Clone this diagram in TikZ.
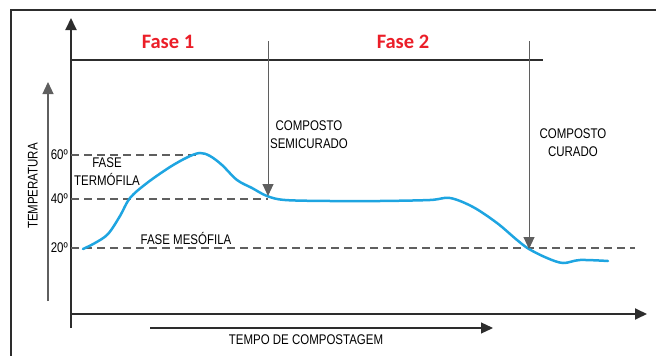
\documentclass[tikz,border=0pt]{standalone}
\usepackage{fontspec}
\setmainfont{Liberation Sans}[FakeStretch=0.82]
\newfontfamily\fasefont{Carlito}
\usepackage{tikz}
\usetikzlibrary{arrows.meta}

\definecolor{curveblue}{RGB}{30,165,225}
\definecolor{fasered}{RGB}{235,30,40}
\definecolor{axisgray}{RGB}{45,45,45}
\definecolor{linegray}{RGB}{95,95,95}

\tikzset{
	lbl/.style={font=\fontsize{14}{18}\selectfont, inner sep=0pt, align=center, text=black},
	fasetxt/.style={font=\fasefont\bfseries\fontsize{20.5}{24}\selectfont, text=fasered, inner sep=0pt},
	axisline/.style={draw=axisgray, line width=1.8pt, -{Triangle[length=12pt,width=11pt]}},
	thinarrow/.style={draw=linegray, line width=1.2pt, -{Triangle[length=12pt,width=11pt]}},
	levelline/.style={draw=linegray, line width=1.1pt, dash pattern=on 8pt off 5pt},
}

\begin{document}
\begin{tikzpicture}[x=1pt,y=-1pt]
					\useasboundingbox (0,0) rectangle (656,356);
					% Frame
					\draw[axisgray, line width=1.3pt] (11,356) -- (11,10) -- (656,10);
					% Axes
					\coordinate (o) at (71,328);
					\coordinate (ytop) at (71,18);
					\coordinate (xl) at (71,314);
					\coordinate (xr) at (647,314);
					\draw[axisline] (o) -- (ytop);
					\draw[axisline] (xl) -- (xr);
					% Phase bar
					\coordinate (barl) at (71,60);
					\coordinate (barr) at (543,60);
					\draw[axisgray, line width=1.3pt] (barl) -- (barr);
					\node[fasetxt] (fase1) at (168,42) {Fase 1};
					\node[fasetxt] (fase2) at (403,42) {Fase 2};
					% Temperature levels
					\foreach \t/\yy/\xe in {60/155/200, 40/199/268, 20/248/635}{
						\coordinate (s\t) at (71,\yy);
						\coordinate (e\t) at (\xe,\yy);
						\draw[levelline] (s\t) -- (e\t);
						\node[lbl, anchor=east] (l\t) at (68,\yy) {\t º};}
					% Curve
					\draw[curveblue, line width=2.5pt, line cap=round] plot[smooth, tension=0.55] coordinates {
						(83,249) (95,243) (108,234) (120,216) (130,198) (147,183) (170,167) (188,157)
						(200,153) (210,156) (222,165) (237,180) (252,188) (267,196) (285,200) (330,201)
						(380,201) (430,200) (450,198) (473,207) (497,223) (517,240) (529,249) (547,258)
						(563,263) (580,260) (608,261)};
					% Compost markers
					\coordinate (semitop) at (268,41);
					\coordinate (semitip) at (268,196);
					\coordinate (curtop) at (529,41);
					\coordinate (curtip) at (529,249);
					\draw[thinarrow, line width=1pt] (semitop) -- (semitip);
					\draw[thinarrow, line width=1pt] (curtop) -- (curtip);
					\node[lbl] (semi) at (309,134.5) {COMPOSTO\\SEMICURADO};
					\node[lbl] (cur) at (573,142.5) {COMPOSTO\\CURADO};
					\node[lbl] (termo) at (107,172) {FASE\\TERMÓFILA};
					\node[lbl, anchor=base] (meso) at (186,244) {FASE MESÓFILA};
					% Axis names
					\coordinate (tb) at (48,301);
					\coordinate (tt) at (48,82);
					\draw[thinarrow] (tb) -- (tt);
					\node[lbl, rotate=90] (temp) at (33,186) {TEMPERATURA};
					\coordinate (tl) at (150,328);
					\coordinate (tr) at (493,328);
					\draw[thinarrow, draw=axisgray] (tl) -- (tr);
					\node[lbl] (tempo) at (306,340) {TEMPO DE COMPOSTAGEM};
				\end{tikzpicture}
\end{document}
